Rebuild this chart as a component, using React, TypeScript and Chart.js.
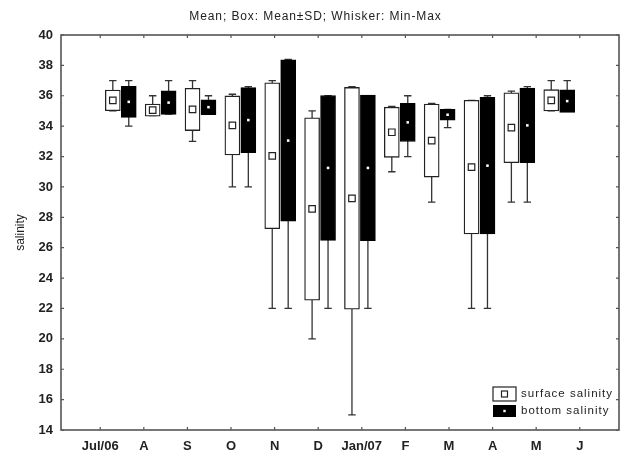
import React, { useEffect, useRef } from 'react';
import { Chart, registerables } from 'chart.js';

Chart.register(...registerables);

const months = ['Jul/06', 'A', 'S', 'O', 'N', 'D', 'Jan/07', 'F', 'M', 'A', 'M', 'J'];

const surfaceMean = [35.7, 35.05, 35.1, 34.05, 32.05, 28.55, 29.25, 33.6, 33.05, 31.3, 33.9, 35.7];
const surfaceSD = [0.68, 0.4, 1.39, 1.94, 4.8, 6.0, 7.3, 1.65, 2.4, 4.4, 2.3, 0.7];
const surfaceMin = [35, 34.7, 33, 30, 22, 20, 15, 31, 29, 22, 29, 35];
const surfaceMax = [37, 36, 37, 36.1, 37, 35, 36.6, 35.3, 35.5, 35.7, 36.3, 37];

const bottomMean = [35.6, 35.55, 35.25, 34.4, 33.05, 31.25, 31.25, 34.25, 34.75, 31.4, 34.05, 35.65];
const bottomSD = [1.02, 0.77, 0.49, 2.14, 5.31, 4.77, 4.79, 1.26, 0.35, 4.5, 2.45, 0.74];
const bottomMin = [34, 34.8, 34.9, 30, 22, 22, 22, 32, 33.9, 22, 29, 35];
const bottomMax = [37, 37, 36, 36.6, 38.4, 36, 36, 36, 35.1, 36, 36.6, 37];

const yMin = 14;
const yMax = 40;
const yStep = 2;

const titleText = 'Mean; Box: Mean\u00B1SD; Whisker: Min-Max';
const yTitle = 'salinity';
const legendLabels = ['surface salinity', 'bottom salinity'];

const SURF_OFF = -0.2;
const BOT_OFF = 0.2;
const FONT = '"Liberation Sans", Arial, sans-serif';
const INK = '#222';

const whiskerPlugin = {
  id: 'whiskers',
  beforeDatasetsDraw(chart: any) {
    const xs = chart.scales.x;
    const ys = chart.scales.y;
    const ctx = chart.ctx;
    ctx.save();
    ctx.strokeStyle = '#333';
    ctx.lineWidth = 1.3;
    const series = [
      { off: SURF_OFF, mins: surfaceMin, maxs: surfaceMax },
      { off: BOT_OFF, mins: bottomMin, maxs: bottomMax },
    ];
    series.forEach((s) => {
      months.forEach((_, i) => {
        const x = xs.getPixelForValue(i + s.off);
        const y1 = ys.getPixelForValue(s.mins[i]);
        const y2 = ys.getPixelForValue(s.maxs[i]);
        ctx.beginPath();
        ctx.moveTo(x, y1);
        ctx.lineTo(x, y2);
        ctx.moveTo(x - 3.7, y1);
        ctx.lineTo(x + 3.7, y1);
        ctx.moveTo(x - 3.7, y2);
        ctx.lineTo(x + 3.7, y2);
        ctx.stroke();
      });
    });
    ctx.restore();
  },
};

const spacedTitlePlugin = {
  id: 'spacedTitle',
  afterLayout(chart: any) {
    const tb = chart.titleBlock;
    if (tb && !tb.__spaced) {
      const orig = tb.draw;
      tb.draw = function (...args: any[]) {
        const ctx = chart.ctx;
        ctx.save();
        (ctx as any).letterSpacing = '0.9px';
        ctx.translate(6, 0);
        orig.apply(this, args);
        ctx.restore();
      };
      tb.__spaced = true;
    }
  },
};

const framePlugin = {
  id: 'frame',
  afterDraw(chart: any) {
    const { ctx, chartArea } = chart;
    const { left, right, top, bottom } = chartArea;
    const xt = chart.scales.xt;
    const ys = chart.scales.y;
    ctx.save();
    ctx.strokeStyle = '#555';
    ctx.lineWidth = 1.6;
    ctx.strokeRect(left, top, right - left, bottom - top);
    ctx.lineWidth = 1.2;
    ctx.beginPath();
    xt.ticks.forEach((t: any) => {
      const x = xt.getPixelForValue(t.value);
      ctx.moveTo(x, bottom);
      ctx.lineTo(x, bottom - 3);
      ctx.moveTo(x, top);
      ctx.lineTo(x, top + 3);
    });
    ys.ticks.forEach((t: any) => {
      const y = ys.getPixelForValue(t.value);
      ctx.moveTo(left, y);
      ctx.lineTo(left + 3, y);
      ctx.moveTo(right, y);
      ctx.lineTo(right - 3, y);
    });
    ctx.stroke();

    // legend
    const bx = right - 126;
    const bw = 23;
    const y1 = bottom - 43;
    const h1 = 14;
    const y2 = bottom - 25;
    const h2 = 12;
    ctx.lineWidth = 1.2;
    ctx.strokeStyle = INK;
    ctx.fillStyle = '#fff';
    ctx.fillRect(bx, y1, bw, h1);
    ctx.strokeRect(bx, y1, bw, h1);
    ctx.strokeRect(bx + bw / 2 - 3, y1 + h1 / 2 - 3, 6, 6);
    ctx.fillStyle = '#000';
    ctx.fillRect(bx, y2, bw, h2);
    ctx.fillStyle = '#fff';
    ctx.fillRect(bx + bw / 2 - 1.2, y2 + h2 / 2 - 1.2, 2.4, 2.4);
    ctx.fillStyle = INK;
    ctx.font = '11.5px ' + FONT;
    (ctx as any).letterSpacing = '1px';
    ctx.textBaseline = 'middle';
    ctx.textAlign = 'left';
    ctx.fillText(legendLabels[0], bx + bw + 5, y1 + h1 / 2);
    ctx.fillText(legendLabels[1], bx + bw + 5, y2 + h2 / 2);
    ctx.restore();
  },
};

export default function App() {
  const ref = useRef<HTMLCanvasElement | null>(null);

  useEffect(() => {
    if (!ref.current) return;
    const boxes = (means: number[], sds: number[], off: number) =>
      months.map((_, i) => ({ x: i + off, y: [means[i] - sds[i], means[i] + sds[i]] }));
    const pts = (means: number[], off: number) => months.map((_, i) => ({ x: i + off, y: means[i] }));

    const chart = new Chart(ref.current, {
      type: 'bar',
      data: {
        datasets: [
          {
            type: 'scatter',
            label: 'surface mean',
            data: pts(surfaceMean, SURF_OFF),
            pointStyle: 'rect',
            pointRadius: 4.6,
            pointBackgroundColor: '#fff',
            pointBorderColor: INK,
            pointBorderWidth: 1.2,
            showLine: false,
            xAxisID: 'x',
            yAxisID: 'y',
            order: 0,
          } as any,
          {
            type: 'scatter',
            label: 'bottom mean',
            data: pts(bottomMean, BOT_OFF),
            pointStyle: 'rect',
            pointRadius: 1.8,
            pointBackgroundColor: '#fff',
            pointBorderWidth: 0,
            showLine: false,
            xAxisID: 'x',
            yAxisID: 'y',
            order: 0,
          } as any,
          {
            type: 'bar',
            label: legendLabels[0],
            data: boxes(surfaceMean, surfaceSD, SURF_OFF),
            backgroundColor: '#fff',
            borderColor: INK,
            borderWidth: 1.3,
            barThickness: 15,
            grouped: false,
            borderSkipped: false,
            xAxisID: 'x',
            yAxisID: 'y',
            order: 1,
          } as any,
          {
            type: 'bar',
            label: legendLabels[1],
            data: boxes(bottomMean, bottomSD, BOT_OFF),
            backgroundColor: '#000',
            borderColor: '#000',
            borderWidth: 1,
            barThickness: 15,
            grouped: false,
            borderSkipped: false,
            xAxisID: 'x',
            yAxisID: 'y',
            order: 1,
          } as any,
        ],
      },
      options: {
        responsive: false,
        maintainAspectRatio: false,
        animation: false,
        layout: { autoPadding: false, padding: { left: 0, right: 3, top: 0, bottom: 0 } },
        plugins: {
          legend: { display: false },
          tooltip: { enabled: false },
          title: {
            display: true,
            text: titleText,
            color: INK,
            font: { family: FONT, size: 12, weight: 'normal' },
            padding: { top: 9, bottom: 11.6 },
          },
        },
        scales: {
          x: {
            type: 'linear',
            display: false,
            min: -1.5,
            max: 12.5,
            offset: false,
          },
          xt: {
            type: 'linear',
            axis: 'x',
            position: 'bottom',
            min: -0.9,
            max: 11.9,
            offset: false,
            grid: { display: false, drawTicks: false },
            border: { display: false },
            afterBuildTicks: (s: any) => {
              s.ticks = months.map((_, i) => ({ value: i }));
            },
            afterFit: (s: any) => {
              s.height = 24;
              s.paddingLeft = 0;
              s.paddingRight = 0;
            },
            ticks: {
              autoSkip: false,
              maxRotation: 0,
              padding: 9,
              color: INK,
              font: { family: FONT, size: 13, weight: 'bold' },
              callback: (_v: any, i: number) => months[i],
            },
          } as any,
          y: {
            type: 'linear',
            position: 'left',
            min: yMin,
            max: yMax,
            grid: { display: false, drawTicks: false },
            border: { display: false },
            afterFit: (s: any) => {
              s.width = 61;
            },
            ticks: {
              stepSize: yStep,
              padding: 8,
              color: INK,
              font: { family: FONT, size: 13, weight: 'bold' },
            },
            title: {
              display: true,
              text: yTitle,
              color: INK,
              font: { family: FONT, size: 12, weight: 'normal' },
              padding: { top: 13.5, bottom: 0 },
            },
          },
        },
      },
      plugins: [spacedTitlePlugin, whiskerPlugin, framePlugin],
    });
    return () => chart.destroy();
  }, []);

  return (
    <div style={{ position: 'absolute', left: 0, top: 0, width: 622, height: 454, background: '#fff' }}>
      <canvas ref={ref} width={622} height={454} style={{ width: 622, height: 454 }} />
    </div>
  );
}
